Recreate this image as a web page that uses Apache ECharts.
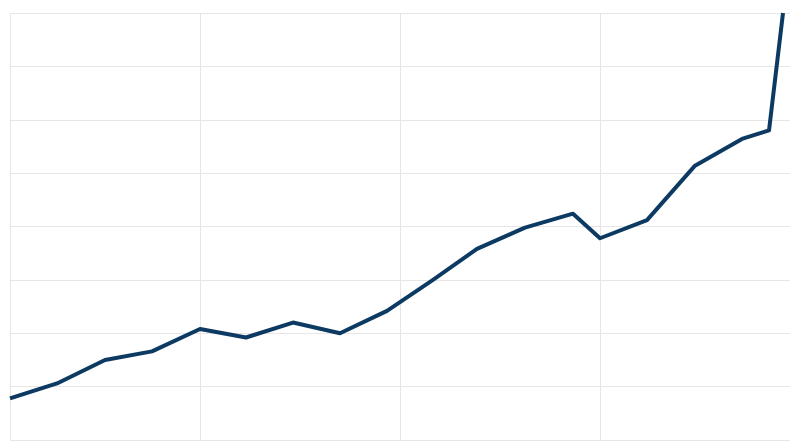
<!DOCTYPE html>
<html>
<head>
<meta charset="utf-8">
<script src="https://cdn.jsdelivr.net/npm/echarts@6/dist/echarts.min.js"></script>
<style>
  html, body { margin: 0; padding: 0; background: #fff; }
  #chart { width: 800px; height: 447px; }
</style>
</head>
<body>
<div id="chart"></div>
<script>
// x positions (period index along the time axis) and values
var periods = [0.5, 2.85, 5.25, 7.6, 10, 12.3, 14.65, 17, 19.35, 21.65, 23.85, 26.25, 28.65, 30, 32.35, 34.75, 37.1, 38.45, 39.15];
var values = [39, 53, 75, 83, 104, 96, 110, 100, 121, 150, 179, 199, 212, 189, 206, 257, 282, 290, 400];

var myChart = echarts.init(document.getElementById('chart'));

var data = [];
periods.forEach((p, i) => {
  data.push([p, values[i]]);
});

var gridColor = '#e6e6e6';

var option = {
  animation: false,
  grid: {
    left: 10,
    right: 10,
    top: 13,
    bottom: 7,
    containLabel: false
  },
  xAxis: {
    type: 'value',
    min: 0.5,
    max: 39.5,
    axisLine: { show: false },
    axisTick: { show: false },
    axisLabel: { show: false },
    splitLine: {
      show: true,
      showMinLine: true,
      showMaxLine: false,
      lineStyle: { color: gridColor, width: 1 }
    }
  },
  yAxis: {
    type: 'value',
    min: 0,
    max: 400,
    interval: 50,
    axisLine: { show: false },
    axisTick: { show: false },
    axisLabel: { show: false },
    splitLine: {
      show: true,
      lineStyle: { color: gridColor, width: 1 }
    }
  },
  series: [
    {
      type: 'line',
      data: data,
      showSymbol: false,
      clip: false,
      lineStyle: {
        color: '#0c3a62',
        width: 4,
        join: 'round'
      }
    }
  ]
};

myChart.setOption(option);
</script>
</body>
</html>
